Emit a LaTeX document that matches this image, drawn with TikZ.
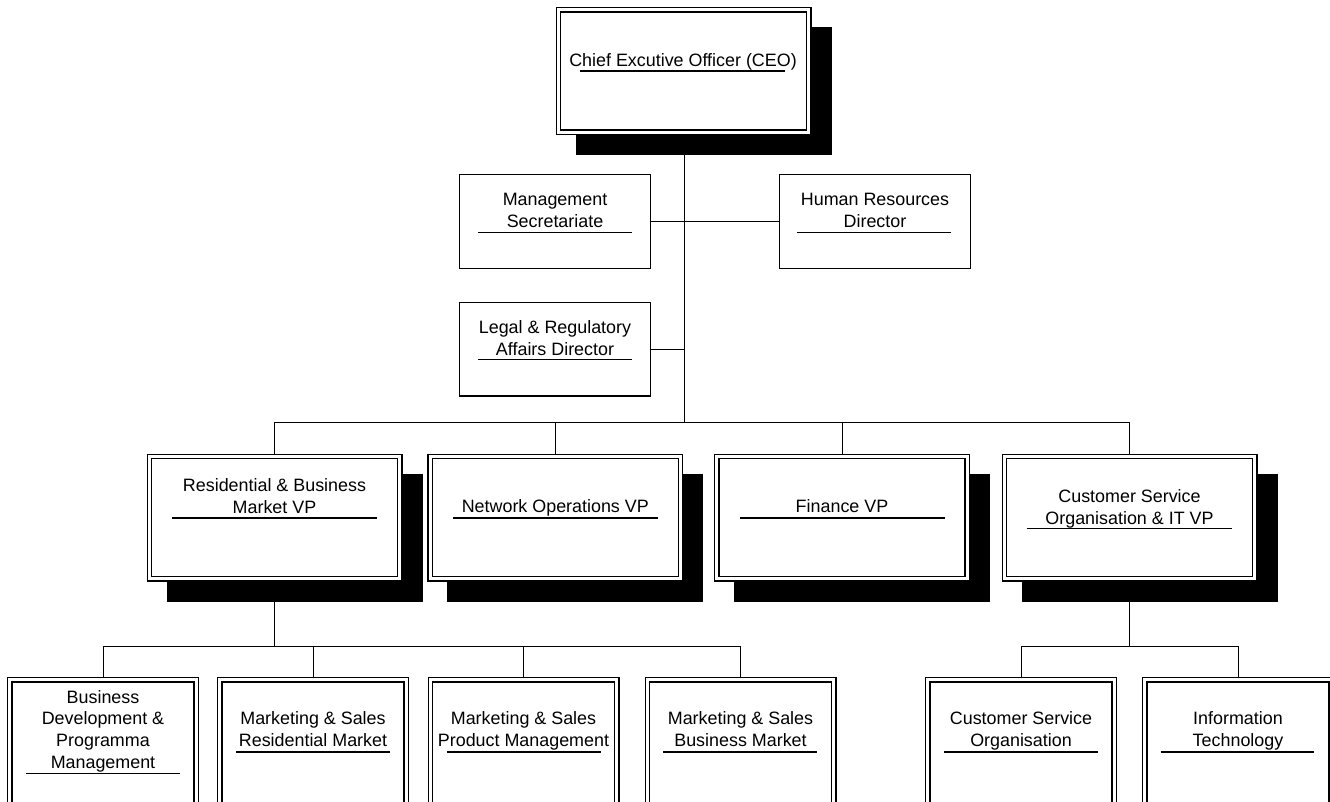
\documentclass[tikz,border=0pt]{standalone}
\usepackage{fontspec}
\setmainfont{Liberation Sans}
\usetikzlibrary{backgrounds,calc}

% black drop shade, 20pt right and down, sized to the outer edge of a double border
\newcommand\dropshade[1]{%
  \fill[black] ($(#1.north west)+(17.2,17.2)$) rectangle ($(#1.south east)+(22.8,22.8)$);}

\begin{document}
\begin{tikzpicture}[x=1pt,y=-1pt,
  dbl/.style={draw=black, fill=white, double=white, double distance=3.2pt,
    line width=1.2pt, rectangle, inner sep=0pt, outer sep=0pt},
  vpbox/.style={dbl, minimum width=250.4pt, minimum height=122.4pt},
  botbox/.style={dbl, minimum width=186.4pt, minimum height=144.4pt},
  dirbox/.style={draw=black, fill=white, line width=1.2pt, rectangle,
    inner sep=0pt, outer sep=0pt, minimum width=190.8pt, minimum height=93.8pt},
  % multi-line labels sit on the baseline of their last line
  lbl/.style={align=center, anchor=base, inner sep=0pt,
    font=\fontsize{17.9}{21.8}\selectfont},
  uline/.style={draw=black, line width=1.2pt},
  conn/.style={draw=black, line width=0.9pt}]

\useasboundingbox (0,0) rectangle (1330,801);
\clip (0,0) rectangle (1330,801);

% ---- boxes ----
\node[vpbox] (ceo) at (683.5,71) {};

\node[dirbox] (mgmt)  at (555,221.5) {};
\node[dirbox] (hr)    at (875,221.5) {};
\node[dirbox] (legal) at (555,349) {};

\node[vpbox] (vpres) at (274.5,517.6) {};
\node[vpbox] (vpnet) at (555.3,517.6) {};
\node[vpbox] (vpfin) at (842,517.6) {};
\node[vpbox] (vpcs)  at (1129.5,517.6) {};

\node[botbox] (bdev) at (103,752) {};
\node[botbox] (msres) at (313,752) {};
\node[botbox] (msprod) at (523.5,752) {};
\node[botbox] (msbus) at (740.5,752) {};
\node[botbox] (cso) at (1021,752) {};
\node[botbox] (it) at (1238,752) {};

% ---- labels ----
\node[lbl] (tceo) at (683,66.7) {Chief Excutive Officer (CEO)};
\node[lbl] (tmgmt) at (555,227.7) {Management\\Secretariate};
\node[lbl] (thr) at (875,227.7) {Human Resources\\Director};
\node[lbl] (tlegal) at (555,355) {Legal \& Regulatory\\Affairs Director};
\node[lbl] (tvpres) at (274.5,513.3) {Residential \& Business\\Market VP};
\node[lbl] (tvpnet) at (555.3,512.7) {Network Operations VP};
\node[lbl] (tvpfin) at (842,512.7) {Finance VP};
\node[lbl] (tvpcs) at (1129.5,524.3) {Customer Service\\Organisation \& IT VP};
\node[lbl] (tbdev) at (103,768.5) {Business\\Development \&\\Programma\\Management};
\node[lbl] (tmsres) at (313,746.7) {Marketing \& Sales\\Residential Market};
\node[lbl] (tmsprod) at (523.5,746.7) {Marketing \& Sales\\Product Management};
\node[lbl] (tmsbus) at (740.5,746.7) {Marketing \& Sales\\Business Market};
\node[lbl] (tcso) at (1021,746.7) {Customer Service\\Organisation};
\node[lbl] (tit) at (1238,746.7) {Information\\Technology};

% ---- underlines ----
\draw[uline] (580,71) -- (785,71);
\draw[uline] (478,232.7) -- (632,232.7);
\draw[uline] (797,232.7) -- (951,232.7);
\draw[uline] (478,359.3) -- (632,359.3);
\draw[uline] (172,518) -- (377,518);
\draw[uline] (453.3,518) -- (657.7,518);
\draw[uline] (740,518) -- (945,518);
\draw[uline] (1026.7,528.3) -- (1231.7,528.3);
\draw[uline] (26,773.3) -- (180,773.3);
\draw[uline] (236,752) -- (390,752);
\draw[uline] (446.7,752) -- (600.7,752);
\draw[uline] (663.3,752) -- (816.7,752);
\draw[uline] (944,752) -- (1097.7,752);
\draw[uline] (1160.7,752) -- (1314.3,752);

% ---- connectors and shades, behind the boxes ----
\begin{scope}[on background layer]
  \fill[white] (0,0) rectangle (1330,801);
  \coordinate (bus) at (684.3,422);
  \coordinate (rbus) at (275,646);
  \coordinate (cbus) at (1130,646);

  \draw[conn] (ceo.south -| bus) -- (bus);
  \draw[conn] (mgmt.east) -- (hr.west);
  \draw[conn] (legal.east) -- (legal.east -| bus);

  \draw[conn] (vpres.north) -- (vpres.north |- bus) -- (vpcs.north |- bus) -- (vpcs.north);
  \draw[conn] (vpnet.north) -- (vpnet.north |- bus);
  \draw[conn] (vpfin.north) -- (vpfin.north |- bus);

  \draw[conn] (vpres.south) -- (vpres.south |- rbus);
  \draw[conn] (bdev.north) -- (bdev.north |- rbus) -- (msbus.north |- rbus) -- (msbus.north);
  \draw[conn] (msres.north) -- (msres.north |- rbus);
  \draw[conn] (msprod.north) -- (msprod.north |- rbus);

  \draw[conn] (vpcs.south) -- (vpcs.south |- cbus);
  \draw[conn] (cso.north) -- (cso.north |- cbus) -- (it.north |- cbus) -- (it.north);

  \dropshade{ceo}
  \dropshade{vpres}
  \dropshade{vpnet}
  \dropshade{vpfin}
  \dropshade{vpcs}
\end{scope}
\end{tikzpicture}
\end{document}
